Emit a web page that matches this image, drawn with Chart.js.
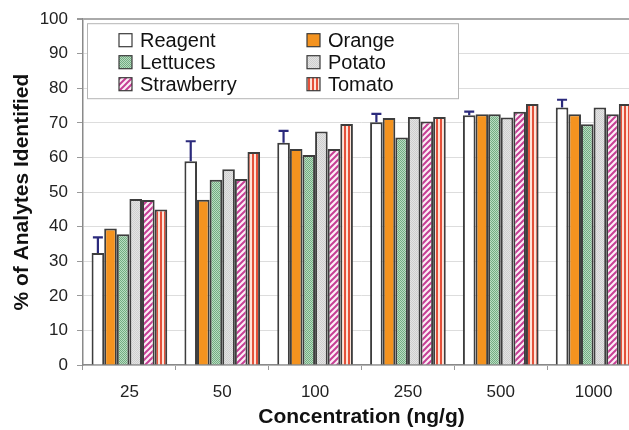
<!DOCTYPE html>
<html>
<head>
<meta charset="utf-8">
<script src="https://cdn.jsdelivr.net/npm/chart.js@4.4.1/dist/chart.umd.min.js"></script>
<style>
  html, body { margin: 0; padding: 0; background: #fff; overflow: hidden; }
  #wrap { width: 650px; height: 430px; }
</style>
</head>
<body>
<div id="wrap"><canvas id="chart" width="650" height="430"></canvas></div>
<script>
// data
const concentrations = ['25', '50', '100', '250', '500', '1000'];
const reagent    = [32.4, 58.9, 64.3, 70.2, 72.2, 74.5];
const reagentErr = [4.5, 5.8, 3.4, 2.4, 1.1, 2.2];
const orange     = [39.5, 47.8, 62.5, 71.4, 72.5, 72.5];
const lettuces   = [37.8, 53.6, 60.7, 65.8, 72.5, 69.6];
const potato     = [48.0, 56.6, 67.5, 71.7, 71.6, 74.5];
const strawberry = [47.7, 53.8, 62.5, 70.4, 73.2, 72.5];
const tomato     = [45.0, 61.6, 69.7, 71.7, 75.5, 75.5];
const yTicks = [0, 10, 20, 30, 40, 50, 60, 70, 80, 90, 100];

const FONT = "'Liberation Sans', Arial, sans-serif";

function makePattern(w, h, draw) {
    const c = document.createElement('canvas');
    c.width = w; c.height = h;
    const g = c.getContext('2d');
    draw(g);
    return g.createPattern(c, 'repeat');
}

const greenDots = makePattern(2, 2, g => {
    g.fillStyle = '#b9dcc1'; g.fillRect(0, 0, 2, 2);
    g.fillStyle = '#72ad82'; g.fillRect(0, 0, 1, 1); g.fillRect(1, 1, 1, 1);
});
const greyDots = makePattern(2, 2, g => {
    g.fillStyle = '#e4e4e4'; g.fillRect(0, 0, 2, 2);
    g.fillStyle = '#cfcfcf'; g.fillRect(0, 0, 1, 1); g.fillRect(1, 1, 1, 1);
});
const pinkStripes = makePattern(6, 6, g => {
    g.fillStyle = '#fbeef5'; g.fillRect(0, 0, 6, 6);
    g.strokeStyle = '#c63f95'; g.lineWidth = 2;
    g.beginPath();
    g.moveTo(-1, 7); g.lineTo(7, -1);
    g.moveTo(-4, 4); g.lineTo(4, -4);
    g.moveTo(2, 10); g.lineTo(10, 2);
    g.stroke();
});
const redStripes = makePattern(4, 4, g => {
    g.fillStyle = '#fde3d8'; g.fillRect(0, 0, 4, 4);
    g.fillStyle = '#e4513a'; g.fillRect(0, 0, 2, 4);
});

function series(label, data, fill) {
    return {
        label: label,
        data: data,
        backgroundColor: fill,
        borderColor: '#3d3d3d',
        borderWidth: 2,
        categoryPercentage: 0.815,
        barPercentage: 1.0
    };
}

const datasets = [
    series('Reagent', reagent, '#ffffff'),
    series('Orange', orange, '#f4931f'),
    series('Lettuces', lettuces, greenDots),
    series('Potato', potato, greyDots),
    series('Strawberry', strawberry, pinkStripes),
    series('Tomato', tomato, redStripes)
];

// error bars (upper half only) on the reagent bars
const errorBars = {
    id: 'errorBars',
    afterDatasetsDraw(chart) {
        const ctx = chart.ctx;
        const y = chart.scales.y;
        const meta = chart.getDatasetMeta(0);
        ctx.save();
        ctx.strokeStyle = '#2b2a7c';
        ctx.lineWidth = 2.2;
        meta.data.forEach((bar, i) => {
            const top = y.getPixelForValue(reagent[i] + reagentErr[i]);
            ctx.beginPath();
            ctx.moveTo(bar.x, bar.y);
            ctx.lineTo(bar.x, top);
            ctx.moveTo(bar.x - 5, top);
            ctx.lineTo(bar.x + 5, top);
            ctx.stroke();
        });
        ctx.restore();
    }
};

// two-column legend inside the plot area
const boxLegend = {
    id: 'boxLegend',
    afterDraw(chart) {
        const ctx = chart.ctx;
        const a = chart.chartArea;
        const left = a.left + 4, top = a.top + 4;
        ctx.save();
        ctx.fillStyle = '#ffffff';
        ctx.fillRect(left, top, 371, 75);
        ctx.strokeStyle = '#b5b5b5';
        ctx.lineWidth = 1;
        ctx.strokeRect(left + 0.5, top + 0.5, 371, 75);
        ctx.font = '20px ' + FONT;
        ctx.textBaseline = 'middle';
        chart.data.datasets.forEach((ds, i) => {
            const col = i % 2, row = Math.floor(i / 2);
            const x = left + 32 + col * 188;
            const cy = top + 17 + row * 22;
            ctx.fillStyle = ds.backgroundColor;
            ctx.fillRect(x, cy - 6.5, 13, 13);
            ctx.strokeStyle = '#3a3a3a';
            ctx.lineWidth = 1.2;
            ctx.strokeRect(x, cy - 6.5, 13, 13);
            ctx.fillStyle = '#111';
            ctx.fillText(ds.label, x + 21, cy + 1);
        });
        ctx.restore();
    }
};

new Chart(document.getElementById('chart'), {
    type: 'bar',
    data: { labels: concentrations, datasets: datasets },
    plugins: [errorBars, boxLegend],
    options: {
        responsive: false,
        devicePixelRatio: 1,
        animation: false,
        layout: { padding: { top: 17, right: 10, left: 0, bottom: 0 } },
        plugins: {
            legend: { display: false },
            tooltip: { enabled: false }
        },
        scales: {
            x: {
                afterFit(s) { s.height = 65; },
                grid: {
                    drawOnChartArea: false,
                    drawTicks: true,
                    tickLength: 5,
                    tickColor: '#999'
                },
                border: { color: '#8a8a8a', width: 1.5 },
                ticks: {
                    padding: 12,
                    color: '#222',
                    font: { family: FONT, size: 17 }
                },
                title: {
                    display: true,
                    text: 'Concentration (ng/g)',
                    color: '#111',
                    font: { family: FONT, size: 21, weight: 'bold' },
                    padding: { top: 0, bottom: 0 }
                }
            },
            y: {
                min: 0,
                max: 100,
                afterFit(s) { s.width = 83; },
                afterBuildTicks(s) { s.ticks = yTicks.map(v => ({ value: v })); },
                grid: {
                    color: c => (c.tick && c.tick.value === 100) ? '#aaaaaa' : '#dddddd',
                    lineWidth: c => (c.tick && c.tick.value === 100) ? 2 : 1,
                    tickLength: 6,
                    tickColor: '#999'
                },
                border: { color: '#8a8a8a', width: 1.5 },
                ticks: {
                    padding: 9,
                    color: '#222',
                    font: { family: FONT, size: 17 }
                },
                title: {
                    display: true,
                    text: '% of Analytes Identified',
                    color: '#111',
                    font: { family: FONT, size: 21, weight: 'bold' },
                    padding: { top: 10, bottom: 0 }
                }
            }
        }
    }
});
</script>
</body>
</html>
